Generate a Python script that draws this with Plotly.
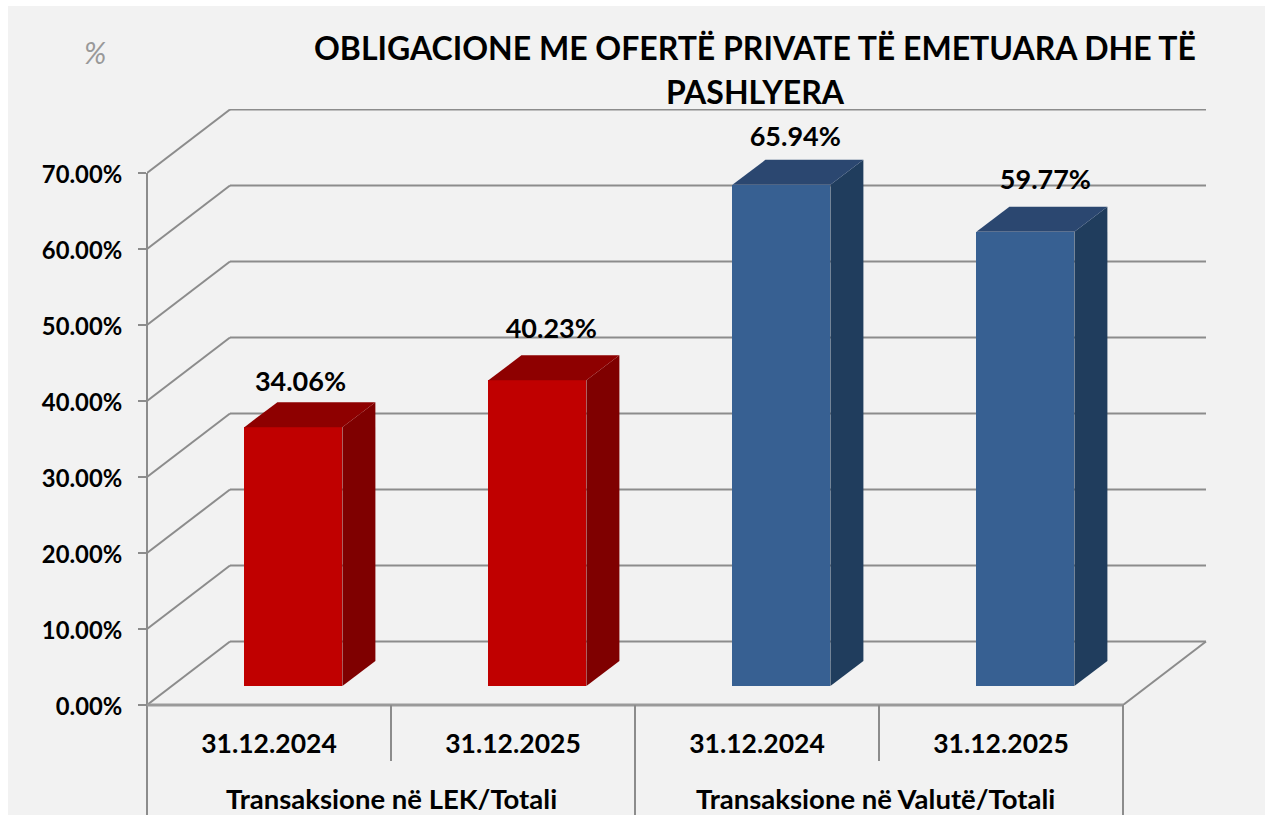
import plotly.graph_objects as go

# ---- data ----
dates = ["31.12.2024", "31.12.2025", "31.12.2024", "31.12.2025"]
groups = ["Transaksione në LEK/Totali", "Transaksione në Valutë/Totali"]
values = [34.06, 40.23, 65.94, 59.77]
value_labels = ["34.06%", "40.23%", "65.94%", "59.77%"]
y_ticks = [0, 10, 20, 30, 40, 50, 60, 70]
y_tick_labels = ["0.00%", "10.00%", "20.00%", "30.00%", "40.00%", "50.00%", "60.00%", "70.00%"]
title_lines = ["OBLIGACIONE ME OFERTË PRIVATE TË EMETUARA DHE TË", "PASHLYERA"]

# ---- styling ----
FONT = "Lato"
PANEL = "#F2F2F2"
LINE = "#8C8C8C"
front_colors = ["#C00000", "#C00000", "#376092", "#376092"]
side_colors = ["#7F0000", "#7F0000", "#203D5D", "#203D5D"]
top_colors = ["#8E0000", "#8E0000", "#2B4770", "#2B4770"]

# ---- geometry (in axis units) ----
W, H = 1265, 815
L, R, T, B = 147, 58, 109, 110
PX_X = 244.0            # pixels per category
PX_Y = 7.6              # pixels per percent point
plot_w, plot_h = W - L - R, H - T - B
WALL_DX, WALL_DY = 83 / PX_X, 63.5 / PX_Y
LIFT_DX, LIFT_DY = 0.1, 19 / PX_Y
BAR_W = 98 / PX_X
BAR_DX, BAR_DY = 33 / PX_X, 25 / PX_Y
n = len(values)
label_dx = [0.029, 0.057, 0.057, 0.082]
label_dy = [5.6, 6.4, 6.0, 6.5]
group_xshift = [0, -4]

fig = go.Figure()

# front faces
fig.add_trace(go.Bar(
    x=[i + 0.5 + LIFT_DX for i in range(n)], y=values, base=LIFT_DY, width=BAR_W,
    marker=dict(color=front_colors, line=dict(width=0)), showlegend=False, hoverinfo="skip",
))

# side and top faces
for i, v in enumerate(values):
    x0 = i + 0.5 + LIFT_DX - BAR_W / 2
    x1 = x0 + BAR_W
    top = v + LIFT_DY
    fig.add_trace(go.Scatter(
        x=[x1, x1 + BAR_DX, x1 + BAR_DX, x1, x1],
        y=[LIFT_DY, LIFT_DY + BAR_DY, top + BAR_DY, top, LIFT_DY],
        mode="lines", fill="toself", fillcolor=side_colors[i], line=dict(width=0),
        showlegend=False, hoverinfo="skip"))
    fig.add_trace(go.Scatter(
        x=[x0, x0 + BAR_DX, x1 + BAR_DX, x1, x0],
        y=[top, top + BAR_DY, top + BAR_DY, top, top],
        mode="lines", fill="toself", fillcolor=top_colors[i], line=dict(width=0),
        showlegend=False, hoverinfo="skip"))

# value labels
fig.add_trace(go.Scatter(
    x=[i + 0.5 + LIFT_DX + label_dx[i] for i in range(n)],
    y=[v + LIFT_DY + label_dy[i] for i, v in enumerate(values)],
    mode="text", text=value_labels, textposition="middle center",
    textfont=dict(family=FONT, size=27, color="#000000", weight="bold"),
    showlegend=False, hoverinfo="skip", cliponaxis=False))


def px(u):
    return u * PX_X / plot_w


def py(v):
    return v * PX_Y / plot_h


def frame(x0, y0, x1, y1, width=2.0, color=LINE):
    """Unclipped line given in category / percent units."""
    return dict(type="line", xref="paper", yref="paper", layer="above",
                x0=px(x0), y0=py(y0), x1=px(x1), y1=py(y1),
                line=dict(color=color, width=width))


LOW_EDGE = -B / PX_Y   # bottom of the window in axis units

# panel + walls as shapes below the traces
shapes = [dict(type="rect", xref="paper", yref="paper", layer="below",
               x0=(8 - L) / plot_w, x1=(W - L) / plot_w,
               y0=-B / plot_h - 0.01, y1=(H - B - 6) / plot_h,
               fillcolor=PANEL, line=dict(width=0))]
for t in y_ticks:
    shapes.append(dict(type="line", xref="x", yref="y", layer="below",
                       x0=0, y0=t, x1=WALL_DX, y1=t + WALL_DY,
                       line=dict(color=LINE, width=2)))
    shapes.append(dict(type="line", xref="x", yref="y", layer="below",
                       x0=WALL_DX, y0=t + WALL_DY, x1=n + WALL_DX, y1=t + WALL_DY,
                       line=dict(color=LINE, width=2)))
shapes.append(dict(type="line", xref="x", yref="y", layer="below",
                   x0=n, y0=0, x1=n + WALL_DX, y1=WALL_DY,
                   line=dict(color=LINE, width=2)))
# value axis, floor edge, category dividers
shapes += [
    frame(0, 70, 0, LOW_EDGE),
    frame(0, 0, n, 0, width=3, color="#9A9A9A"),
    frame(n, 0, n, LOW_EDGE),
    frame(2, 0, 2, LOW_EDGE),
    frame(1, 0, 1, -56 / PX_Y),
    frame(3, 0, 3, -56 / PX_Y),
]

annotations = [
    dict(text="%", xref="paper", yref="paper", x=(95 - L) / plot_w, y=(H - B - 52) / plot_h,
         showarrow=False, xanchor="center", yanchor="middle",
         font=dict(family=FONT, size=30, color="#999999", style="italic")),
]
for k, g in enumerate(groups):
    annotations.append(dict(
        text=g, xref="x", yref="y", x=2 * k + 1, y=0, yshift=-93, xshift=group_xshift[k],
        showarrow=False, xanchor="center", yanchor="middle",
        font=dict(family=FONT, size=27.5, color="#000000", weight="bold")))

TITLE_PX = 32
title_text = "<br>".join(f'<span style="font-size:{TITLE_PX}px">{t}</span>' for t in title_lines)

fig.update_layout(
    width=W, height=H, margin=dict(l=L, r=R, t=T, b=B, pad=0),
    paper_bgcolor="#FFFFFF", plot_bgcolor="rgba(0,0,0,0)",
    showlegend=False, bargap=0,
    title=dict(text=title_text, x=755 / W, xanchor="center", y=1 - 60 / H, yanchor="middle",
               font=dict(family=FONT, size=34, color="#000000", weight="bold")),
    xaxis=dict(range=[0, plot_w / PX_X], tickmode="array",
               tickvals=[i + 0.5 for i in range(n)], ticktext=dates,
               showgrid=False, zeroline=False, showline=False, ticks="",
               ticklabelstandoff=20,
               tickfont=dict(family=FONT, size=26.5, color="#000000", weight="bold")),
    yaxis=dict(range=[0, plot_h / PX_Y], tickmode="array",
               tickvals=y_ticks, ticktext=y_tick_labels,
               showgrid=False, zeroline=False, showline=False,
               ticks="outside", ticklen=8, tickwidth=2, tickcolor=LINE,
               ticklabelstandoff=11, ticklabelshift=2,
               tickfont=dict(family=FONT, size=23.8, color="#000000", weight="bold")),
    shapes=shapes, annotations=annotations,
)

fig.write_html("out.html", config={"displayModeBar": False},
               post_script="document.body.style.margin='0';document.body.style.overflow='hidden';")
